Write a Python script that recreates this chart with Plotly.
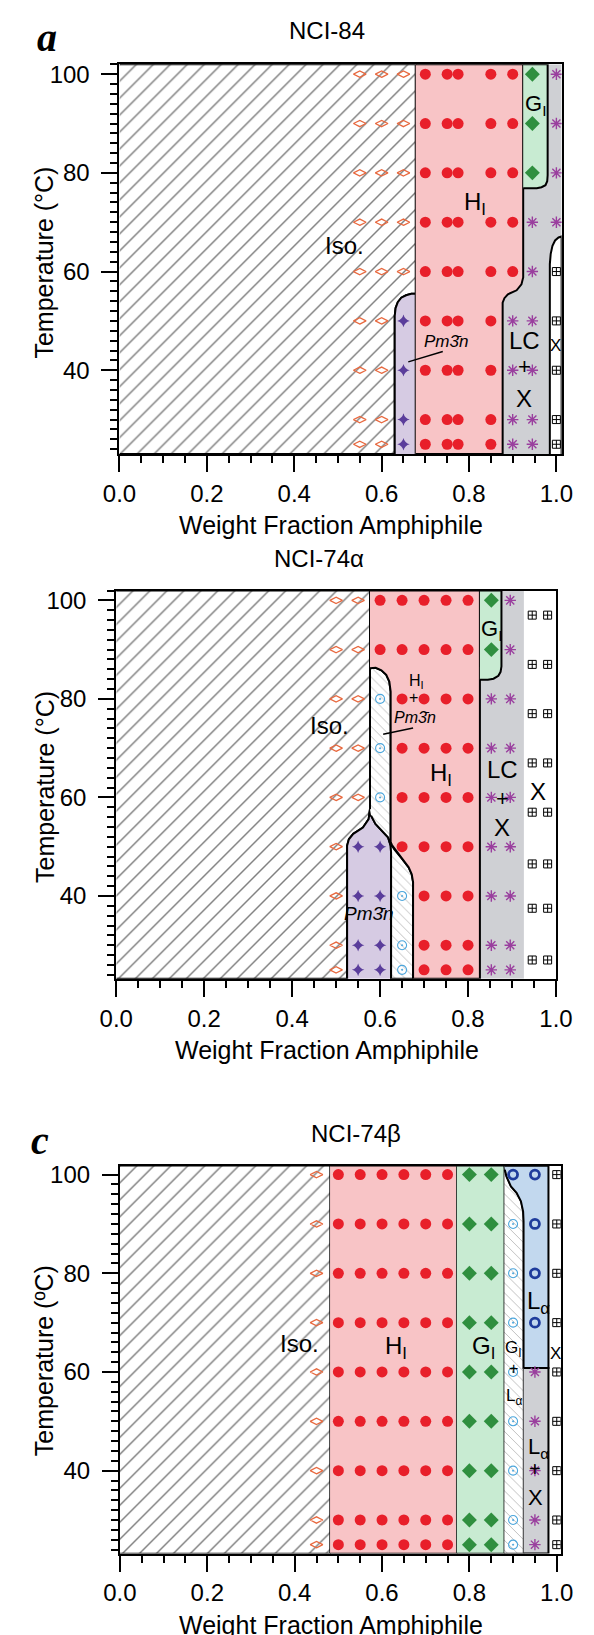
import plotly.graph_objects as go

FIG_W, FIG_H = 594, 1635
FONT = "Liberation Sans, Arial, sans-serif"

# ---------------- Panel a : NCI-84 ----------------
a_iso_x = [0.55, 0.60, 0.65, 0.55, 0.60, 0.65, 0.55, 0.60, 0.65, 0.55, 0.60, 0.65,
           0.55, 0.60, 0.65, 0.55, 0.60, 0.55, 0.60, 0.55, 0.60, 0.55, 0.60]
a_iso_T = [100, 100, 100, 90, 90, 90, 80, 80, 80, 70, 70, 70,
           60, 60, 60, 50, 50, 40, 40, 30, 30, 25, 25]
a_pm3n_x = [0.65, 0.65, 0.65, 0.65]
a_pm3n_T = [50, 40, 30, 25]
a_hex_x = [0.70, 0.75, 0.775, 0.85, 0.90, 0.70, 0.75, 0.775, 0.85, 0.90,
           0.70, 0.75, 0.775, 0.85, 0.90, 0.70, 0.75, 0.775, 0.85, 0.90,
           0.70, 0.75, 0.775, 0.85, 0.90, 0.70, 0.75, 0.775, 0.85,
           0.70, 0.75, 0.775, 0.85, 0.70, 0.75, 0.775, 0.85, 0.70, 0.75, 0.775, 0.85]
a_hex_T = [100, 100, 100, 100, 100, 90, 90, 90, 90, 90,
           80, 80, 80, 80, 80, 70, 70, 70, 70, 70,
           60, 60, 60, 60, 60, 50, 50, 50, 50,
           40, 40, 40, 40, 30, 30, 30, 30, 25, 25, 25, 25]
a_gyr_x = [0.945, 0.945, 0.945]
a_gyr_T = [100, 90, 80]
a_lcx_x = [1.0, 1.0, 1.0, 0.945, 1.0, 0.945, 0.90, 0.945, 0.90, 0.945, 0.90, 0.945, 0.90, 0.945]
a_lcx_T = [100, 90, 80, 70, 70, 60, 50, 50, 40, 40, 30, 30, 25, 25]
a_xtal_x = [1.0, 1.0, 1.0, 1.0, 1.0]
a_xtal_T = [60, 50, 40, 30, 25]

# phase boundaries (weight fraction, temperature)
a_iso_bx = [0, 0.630, 0.630, 0.632, 0.637, 0.645, 0.656, 0.668, 0.678, 0.678, 0]
a_iso_bT = [23, 23, 51, 52.6, 53.8, 54.7, 55.2, 55.5, 55.5, 102, 102]
a_pm_bx = [0.630, 0.630, 0.632, 0.637, 0.645, 0.656, 0.668, 0.678, 0.678]
a_pm_bT = [23, 51, 52.6, 53.8, 54.7, 55.2, 55.5, 55.5, 23]
a_hI_bx = [0.678, 0.877, 0.877, 0.881, 0.889, 0.909, 0.920, 0.924, 0.924, 0.678]
a_hI_bT = [23, 23, 53.7, 54.6, 55.4, 56.2, 57.4, 58.8, 102, 102]
a_g_bx = [0.924, 0.980, 0.980, 0.979, 0.975, 0.966, 0.955, 0.924]
a_g_bT = [102, 102, 79.5, 78.3, 77.5, 77.1, 76.9, 76.9]
a_lc_bx = [0.877, 1.012, 1.012, 0.877]
a_lc_bT = [23, 23, 102, 102]
a_x_bx = [0.985, 0.985, 0.987, 0.991, 0.997, 1.005, 1.012, 1.012]
a_x_bT = [23, 61.5, 63.6, 65.2, 66.3, 66.9, 67.1, 23]
a_lead_x = [0.661, 0.740]
a_lead_T = [41.7, 43.8]

a_lab_text = ["Iso.", "H<sub>I</sub>", "G<sub>I</sub>", "<i>Pm3\u0304n</i>", "LC", "+", "X", "X"]
a_lab_x = [0.514, 0.813, 0.952, 0.747, 0.927, 0.927, 0.927, 0.999]
a_lab_T = [65.2, 73.8, 93.8, 45.8, 46.0, 40.7, 34.3, 45.0]
a_lab_size = [24, 24, 22, 17, 24, 22, 24, 17]

# ---------------- Panel b : NCI-74alpha ----------------
b_iso_x = [0.50, 0.55, 0.50, 0.55, 0.50, 0.55, 0.50, 0.55, 0.50, 0.55, 0.50, 0.50, 0.50, 0.50]
b_iso_T = [100, 100, 90, 90, 80, 80, 70, 70, 60, 60, 50, 40, 30, 25]
b_pm3n_x = [0.55, 0.60, 0.55, 0.60, 0.55, 0.60, 0.55, 0.60]
b_pm3n_T = [50, 50, 40, 40, 30, 30, 25, 25]
b_hex_x = [0.60, 0.65, 0.70, 0.75, 0.80, 0.60, 0.65, 0.70, 0.75, 0.80,
           0.65, 0.70, 0.75, 0.80, 0.65, 0.70, 0.75, 0.80, 0.65, 0.70, 0.75, 0.80,
           0.65, 0.70, 0.75, 0.80, 0.70, 0.75, 0.80, 0.70, 0.75, 0.80, 0.70, 0.75, 0.80]
b_hex_T = [100, 100, 100, 100, 100, 90, 90, 90, 90, 90,
           80, 80, 80, 80, 70, 70, 70, 70, 60, 60, 60, 60,
           50, 50, 50, 50, 40, 40, 40, 30, 30, 30, 25, 25, 25]
b_mix_x = [0.60, 0.60, 0.60, 0.65, 0.65, 0.65]
b_mix_T = [80, 70, 60, 40, 30, 25]
b_gyr_x = [0.853, 0.853]
b_gyr_T = [100, 90]
b_lcx_x = [0.896, 0.896, 0.853, 0.896, 0.853, 0.896, 0.853, 0.896, 0.853, 0.896,
           0.853, 0.896, 0.853, 0.896, 0.853, 0.896]
b_lcx_T = [100, 90, 80, 80, 70, 70, 60, 60, 50, 50, 40, 40, 30, 30, 25, 25]
b_xtal_x = [0.946, 0.981, 0.946, 0.981, 0.946, 0.981, 0.946, 0.981,
            0.946, 0.981, 0.946, 0.981, 0.946, 0.981, 0.946, 0.981]
b_xtal_T = [97, 97, 87, 87, 77, 77, 67, 67, 57, 57, 46.5, 46.5, 37.5, 37.5, 27, 27]

b_iso_bx = [0, 0.525, 0.525, 0.529, 0.539, 0.561, 0.574, 0.577, 0.577, 0]
b_iso_bT = [23.2, 23.2, 50.2, 51.5, 52.6, 53.9, 55.6, 57.6, 102, 102]
b_pm_bx = [0.525, 0.525, 0.529, 0.539, 0.561, 0.574, 0.577, 0.5795, 0.5895, 0.605, 0.618, 0.624, 0.625, 0.625]
b_pm_bT = [23.2, 50.2, 51.5, 52.6, 53.9, 55.6, 57.6, 56.3, 54.6, 53.2, 51.9, 50.2, 48.8, 23.2]
b_mix_bx = [0.577, 0.577, 0.590, 0.603, 0.614, 0.621, 0.624, 0.624, 0.627, 0.632, 0.650, 0.665,
            0.672, 0.675, 0.675, 0.625, 0.625, 0.624, 0.618, 0.605, 0.5895, 0.5795]
b_mix_bT = [57.6, 86.2, 86.3, 85.8, 84.9, 83.5, 81.5, 51.0, 50.3, 49.5, 47.5, 45.8,
            44.4, 42.8, 23.2, 23.2, 48.8, 50.2, 51.9, 53.2, 54.6, 56.3]
b_hI_bx = [0.577, 0.827, 0.827, 0.675, 0.675, 0.672, 0.665, 0.650, 0.632, 0.627, 0.624,
           0.624, 0.621, 0.614, 0.603, 0.590, 0.577]
b_hI_bT = [102, 102, 23.2, 23.2, 42.8, 44.4, 45.8, 47.5, 49.5, 50.3, 51.0,
           81.5, 83.5, 84.9, 85.8, 86.3, 86.2]
b_g_bx = [0.827, 0.876, 0.876, 0.874, 0.869, 0.858, 0.845, 0.827]
b_g_bT = [102, 102, 86.6, 85.5, 84.7, 84.1, 83.9, 83.9]
b_lc_bx = [0.827, 0.927, 0.927, 0.827]
b_lc_bT = [23.2, 23.2, 102, 102]
b_lead_x = [0.607, 0.675]
b_lead_T = [72.8, 74.1]

b_lab_text = ["Iso.", "H<sub>I</sub>", "+", "<i>Pm3\u0304n</i>", "H<sub>I</sub>", "G<sub>I</sub>",
              "LC", "+", "X", "X", "<i>Pm3\u0304n</i>"]
b_lab_x = [0.486, 0.682, 0.677, 0.679, 0.738, 0.853, 0.878, 0.878, 0.878, 0.959, 0.574]
b_lab_T = [74.5, 83.5, 80.2, 76.2, 64.6, 94.0, 65.7, 59.8, 53.9, 61.3, 36.4]
b_lab_size = [24, 16, 16, 16, 24, 22, 24, 22, 24, 24, 19]

# ---------------- Panel c : NCI-74beta ----------------
c_iso_x = [0.45, 0.45, 0.45, 0.45, 0.45, 0.45, 0.45, 0.45, 0.45]
c_iso_T = [100, 90, 80, 70, 60, 50, 40, 30, 25]
c_hex_x = [0.50, 0.55, 0.60, 0.65, 0.70, 0.75, 0.50, 0.55, 0.60, 0.65, 0.70, 0.75,
           0.50, 0.55, 0.60, 0.65, 0.70, 0.75, 0.50, 0.55, 0.60, 0.65, 0.70, 0.75,
           0.50, 0.55, 0.60, 0.65, 0.70, 0.75, 0.50, 0.55, 0.60, 0.65, 0.70, 0.75,
           0.50, 0.55, 0.60, 0.65, 0.70, 0.75, 0.50, 0.55, 0.60, 0.65, 0.70, 0.75,
           0.50, 0.55, 0.60, 0.65, 0.70, 0.75]
c_hex_T = [100, 100, 100, 100, 100, 100, 90, 90, 90, 90, 90, 90,
           80, 80, 80, 80, 80, 80, 70, 70, 70, 70, 70, 70,
           60, 60, 60, 60, 60, 60, 50, 50, 50, 50, 50, 50,
           40, 40, 40, 40, 40, 40, 30, 30, 30, 30, 30, 30,
           25, 25, 25, 25, 25, 25]
c_gyr_x = [0.80, 0.85, 0.80, 0.85, 0.80, 0.85, 0.80, 0.85, 0.80, 0.85,
           0.80, 0.85, 0.80, 0.85, 0.80, 0.85, 0.80, 0.85]
c_gyr_T = [100, 100, 90, 90, 80, 80, 70, 70, 60, 60, 50, 50, 40, 40, 30, 30, 25, 25]
c_mix_x = [0.90, 0.90, 0.90, 0.90, 0.90, 0.90, 0.90, 0.90]
c_mix_T = [90, 80, 70, 60, 50, 40, 30, 25]
c_lam_x = [0.90, 0.95, 0.95, 0.95, 0.95]
c_lam_T = [100, 100, 90, 80, 70]
c_lx_x = [0.95, 0.95, 0.95, 0.95, 0.95]
c_lx_T = [60, 50, 40, 30, 25]
c_xtal_x = [1.0, 1.0, 1.0, 1.0, 1.0, 1.0, 1.0, 1.0, 1.0]
c_xtal_T = [100, 90, 80, 70, 60, 50, 40, 30, 25]

c_iso_bx = [0, 0.481, 0.481, 0]
c_iso_bT = [23.2, 23.2, 101.8, 101.8]
c_hI_bx = [0.481, 0.771, 0.771, 0.481]
c_hI_bT = [23.2, 23.2, 101.8, 101.8]
c_g_bx = [0.771, 0.880, 0.880, 0.771]
c_g_bT = [23.2, 23.2, 101.8, 101.8]
c_mix_bx = [0.880, 0.924, 0.924, 0.923, 0.918, 0.908, 0.895, 0.885, 0.881, 0.880]
c_mix_bT = [23.2, 23.2, 90.5, 92.5, 94.6, 96.3, 97.6, 99.6, 101.0, 101.8]
c_lam_bx = [0.880, 0.981, 0.981, 0.924, 0.924, 0.923, 0.918, 0.908, 0.895, 0.885, 0.881]
c_lam_bT = [101.8, 101.8, 60.8, 60.8, 90.5, 92.5, 94.6, 96.3, 97.6, 99.6, 101.0]
c_lx_bx = [0.924, 0.981, 0.981, 0.924]
c_lx_bT = [23.2, 23.2, 60.8, 60.8]

c_lab_text = ["Iso.", "H<sub>I</sub>", "G<sub>I</sub>", "G<sub>I</sub>", "+", "L<sub>\u03b1</sub>",
              "L<sub>\u03b1</sub>", "X", "L<sub>\u03b1</sub>", "+", "X"]
c_lab_x = [0.41, 0.632, 0.833, 0.902, 0.900, 0.902, 0.958, 0.998, 0.958, 0.951, 0.951]
c_lab_T = [65.7, 65.0, 65.0, 64.6, 60.7, 55.0, 74.0, 63.7, 44.5, 40.3, 34.6]
c_lab_size = [24, 24, 24, 17, 16, 17, 24, 17, 22, 20, 22]

# ---------------- styles ----------------
PINK, GREEN, LAV, GRAY, BLUE = "#f8c4c6", "#c8ebd2", "#d6cbe3", "#cfd0d4", "#c2d8ee"
HATCH = dict(shape="/", fgcolor="black", bgcolor="white", size=12, solidity=0.12)
DOTS = dict(shape="\\", fgcolor="#777777", bgcolor="white", size=7, solidity=0.13)

M_ISO = dict(symbol="diamond-wide-open", size=9, color="#e8693f", line=dict(width=1.3))
M_PM = dict(symbol="star-diamond", size=9, color="#5a3d9b", line=dict(width=0))
M_HEX = dict(symbol="circle", size=11, color="#e81f2a", line=dict(width=0))
M_GYR = dict(symbol="diamond", size=11.5, color="#2f8f3f", line=dict(width=0))
M_AST = dict(symbol="asterisk-open", size=9.5, color="#9a3f9e", line=dict(width=1.4))
M_XT = dict(symbol="square-cross-open", size=8, color="black", line=dict(width=1))
M_MIX = dict(symbol="circle-open-dot", size=9, color="#4ca6dc", line=dict(width=1.1))
M_LAM = dict(symbol="circle-open", size=9, color="#1f3c9c", line=dict(width=2.8))

fig = go.Figure()


def region(xs, ys, ax, fill, lw=2.0, pattern=None):
    kw = dict(x=xs, y=ys, xaxis="x" + ax, yaxis="y" + ax, mode="lines", fill="toself",
              fillcolor=fill, hoverinfo="skip", showlegend=False,
              line=dict(color="black" if lw > 0 else fill, width=lw))
    if pattern is not None:
        kw["fillpattern"] = pattern
    fig.add_trace(go.Scatter(**kw))


def pts(xs, ys, ax, m):
    fig.add_trace(go.Scatter(x=xs, y=ys, xaxis="x" + ax, yaxis="y" + ax, mode="markers",
                             marker=m, hoverinfo="skip", showlegend=False))


def lead(xs, ys, ax):
    fig.add_trace(go.Scatter(x=xs, y=ys, xaxis="x" + ax, yaxis="y" + ax, mode="lines",
                             line=dict(color="black", width=1.5), hoverinfo="skip", showlegend=False))


# panel a
region(a_lc_bx, a_lc_bT, "", GRAY, lw=0)
region(a_iso_bx, a_iso_bT, "", "white", pattern=HATCH)
region(a_pm_bx, a_pm_bT, "", LAV)
region(a_hI_bx, a_hI_bT, "", PINK)
region(a_g_bx, a_g_bT, "", GREEN)
region(a_x_bx, a_x_bT, "", "white")
pts(a_iso_x, a_iso_T, "", M_ISO)
pts(a_pm3n_x, a_pm3n_T, "", M_PM)
pts(a_hex_x, a_hex_T, "", M_HEX)
pts(a_gyr_x, a_gyr_T, "", M_GYR)
pts(a_lcx_x, a_lcx_T, "", M_AST)
pts(a_xtal_x, a_xtal_T, "", M_XT)
lead(a_lead_x, a_lead_T, "")

# panel b
region(b_lc_bx, b_lc_bT, "2", GRAY, lw=0)
region(b_iso_bx, b_iso_bT, "2", "white", pattern=HATCH)
region(b_pm_bx, b_pm_bT, "2", LAV)
region(b_mix_bx, b_mix_bT, "2", "white", pattern=DOTS)
region(b_hI_bx, b_hI_bT, "2", PINK)
region(b_g_bx, b_g_bT, "2", GREEN)
pts(b_iso_x, b_iso_T, "2", M_ISO)
pts(b_pm3n_x, b_pm3n_T, "2", M_PM)
pts(b_hex_x, b_hex_T, "2", M_HEX)
pts(b_mix_x, b_mix_T, "2", M_MIX)
pts(b_gyr_x, b_gyr_T, "2", M_GYR)
pts(b_lcx_x, b_lcx_T, "2", M_AST)
pts(b_xtal_x, b_xtal_T, "2", M_XT)
lead(b_lead_x, b_lead_T, "2")

# panel c
region(c_iso_bx, c_iso_bT, "3", "white", lw=1.5, pattern=HATCH)
region(c_hI_bx, c_hI_bT, "3", PINK, lw=1.5)
region(c_g_bx, c_g_bT, "3", GREEN, lw=1.5)
region(c_mix_bx, c_mix_bT, "3", "white", lw=1.5, pattern=DOTS)
region(c_lam_bx, c_lam_bT, "3", BLUE)
region(c_lx_bx, c_lx_bT, "3", GRAY)
pts(c_iso_x, c_iso_T, "3", M_ISO)
pts(c_hex_x, c_hex_T, "3", M_HEX)
pts(c_gyr_x, c_gyr_T, "3", M_GYR)
pts(c_mix_x, c_mix_T, "3", M_MIX)
pts(c_lam_x, c_lam_T, "3", M_LAM)
pts(c_lx_x, c_lx_T, "3", M_AST)
pts(c_xtal_x, c_xtal_T, "3", M_XT)


def px_x(p):
    return p / FIG_W


def px_y(p):
    return 1 - p / FIG_H


def xaxis(dom, rng, anchor):
    return dict(domain=[px_x(dom[0]), px_x(dom[1])], range=rng, anchor=anchor,
                showline=True, linewidth=2, linecolor="black", mirror=True,
                ticks="outside", ticklen=16, tickwidth=2, tickcolor="black",
                tick0=0, dtick=0.2, tickformat=".1f",
                tickfont=dict(family=FONT, size=24, color="black"), ticklabelstandoff=1,
                minor=dict(ticks="outside", dtick=0.05, ticklen=7, tickwidth=1.5, tickcolor="black"),
                showgrid=False, zeroline=False)


def yaxis(dom, rng, anchor):
    return dict(domain=[px_y(dom[1]), px_y(dom[0])], range=rng, anchor=anchor,
                showline=True, linewidth=2, linecolor="black", mirror=True,
                ticks="outside", ticklen=16, tickwidth=2, tickcolor="black",
                tick0=0, dtick=20,
                tickfont=dict(family=FONT, size=24, color="black"), ticklabelstandoff=7,
                minor=dict(ticks="outside", dtick=2, ticklen=7, tickwidth=1.5, tickcolor="black"),
                showgrid=False, zeroline=False)


anns = []


def lab(texts, xs, ys, sizes, ax):
    for t, x, y, s in zip(texts, xs, ys, sizes):
        anns.append(dict(text=t, x=x, y=y, xref="x" + ax, yref="y" + ax, showarrow=False,
                         font=dict(family=FONT, size=s, color="black"),
                         xanchor="center", yanchor="middle"))


lab(a_lab_text, a_lab_x, a_lab_T, a_lab_size, "")
lab(b_lab_text, b_lab_x, b_lab_T, b_lab_size, "2")
lab(c_lab_text, c_lab_x, c_lab_T, c_lab_size, "3")


def ptext(t, x, y, size, family=FONT, angle=0, xanchor="center"):
    anns.append(dict(text=t, x=px_x(x), y=px_y(y), xref="paper", yref="paper", showarrow=False,
                     font=dict(family=family, size=size, color="black"), textangle=angle,
                     xanchor=xanchor, yanchor="middle"))


SERIF = "Liberation Serif, Times New Roman, serif"
ptext("NCI-84", 329, 26, 24)
ptext("NCI-74\u03b1", 271, 555, 24, xanchor="left")
ptext("NCI-74\u03b2", 360, 1132, 24)
ptext("<b><i>a</i></b>", 32, 32.5, 40, SERIF)
ptext("<b><i>c</i></b>", 24, 1139, 40, SERIF)
ptext("Weight Fraction Amphiphile", 170, 522, 25, xanchor="left")
ptext("Weight Fraction Amphiphile", 166, 1048, 25, xanchor="left")
ptext("Weight Fraction Amphiphile", 170, 1625, 25, xanchor="left")
ptext("Temperature (\u00b0C)", 29, 258, 25, angle=-90)
ptext("Temperature (\u00b0C)", 29, 784, 25, angle=-90)
ptext("Temperature (\u00baC)", 29, 1360, 25, angle=-90)

fig.update_layout(
    width=FIG_W, height=FIG_H, margin=dict(l=0, r=0, t=0, b=0),
    paper_bgcolor="white", plot_bgcolor="white", showlegend=False,
    xaxis=xaxis([108.7, 577.7], [0, 1.012], "y"),
    yaxis=yaxis([59.5, 450.5], [23, 102], "x"),
    xaxis2=xaxis([105.3, 571.7], [0, 1.0], "y2"),
    yaxis2=yaxis([587.3, 976.7], [23.2, 102], "x2"),
    xaxis3=xaxis([109.2, 576.7], [0, 1.009], "y3"),
    yaxis3=yaxis([1164.3, 1553.3], [23.2, 101.8], "x3"),
    annotations=anns,
)

fig.write_html("out.html", config={"displayModeBar": False},
               post_script="document.body.style.margin='0px'; document.body.style.overflow='hidden';")
